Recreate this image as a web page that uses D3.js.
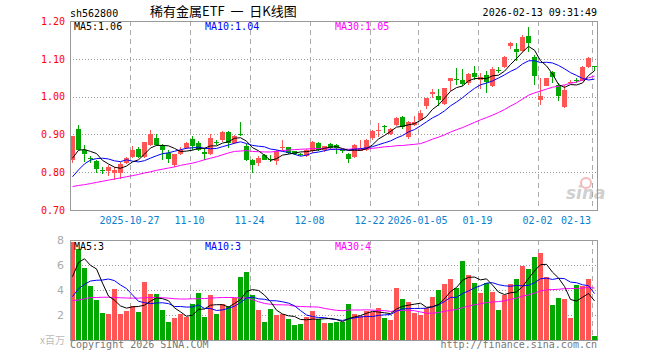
<!DOCTYPE html>
<html>
<head>
<meta charset="utf-8">
<script src="https://cdn.jsdelivr.net/npm/d3@7"></script>
<style>
  body { margin: 0; background: #fff; }
  text { font-family: "DejaVu Sans Mono", monospace; }
</style>
</head>
<body>
<div id="chart"></div>
<script>
// trading days shown on the chart
const dates = [
  "2025-10-13","2025-10-14","2025-10-15","2025-10-16","2025-10-17","2025-10-20","2025-10-21","2025-10-22","2025-10-23","2025-10-24",
  "2025-10-27","2025-10-28","2025-10-29","2025-10-30","2025-10-31","2025-11-03","2025-11-04","2025-11-05","2025-11-06","2025-11-07",
  "2025-11-10","2025-11-11","2025-11-12","2025-11-13","2025-11-14","2025-11-17","2025-11-18","2025-11-19","2025-11-20","2025-11-21",
  "2025-11-24","2025-11-25","2025-11-26","2025-11-27","2025-11-28","2025-12-01","2025-12-02","2025-12-03","2025-12-04","2025-12-05",
  "2025-12-08","2025-12-09","2025-12-10","2025-12-11","2025-12-12","2025-12-15","2025-12-16","2025-12-17","2025-12-18","2025-12-19",
  "2025-12-22","2025-12-23","2025-12-24","2025-12-25","2025-12-26","2025-12-29","2025-12-30","2025-12-31","2026-01-05","2026-01-06",
  "2026-01-07","2026-01-08","2026-01-09","2026-01-12","2026-01-13","2026-01-14","2026-01-15","2026-01-16","2026-01-19","2026-01-20",
  "2026-01-21","2026-01-22","2026-01-23","2026-01-26","2026-01-27","2026-01-28","2026-01-29","2026-01-30","2026-02-02","2026-02-03",
  "2026-02-04","2026-02-05","2026-02-06","2026-02-09","2026-02-10","2026-02-11","2026-02-12","2026-02-13"
];

const open = [
  .831,.915,.858,.838,.829,.806,.804,.798,.797,.824,
  .840,.861,.841,.872,.890,.869,.851,.820,.849,.863,
  .887,.878,.853,.847,.880,.884,.907,.878,.900,.868,
  .831,.825,.845,.834,.829,.865,.866,.856,.849,.842,
  .855,.878,.860,.875,.872,.858,.849,.840,.857,.859,
  .890,.908,.923,.902,.925,.946,.893,.925,.939,.975,
  1.006,1.001,.981,1.041,1.046,1.045,1.037,1.063,1.043,1.057,
  1.028,1.070,1.078,1.135,1.126,1.121,1.161,1.105,.991,1.029,
  1.066,1.030,.973,1.037,1.045,1.041,1.079,1.081
];
const high = [
  .897,.924,.872,.844,.831,.813,.818,.814,.828,.840,
  .868,.866,.881,.912,.902,.875,.860,.848,.866,.880,
  .895,.882,.864,.902,.884,.908,.909,.898,.932,.875,
  .834,.842,.848,.845,.858,.884,.866,.857,.852,.862,
  .882,.880,.869,.877,.874,.862,.851,.874,.886,.887,
  .912,.930,.925,.918,.947,.948,.935,.950,.965,.997,
  1.019,1.019,1.024,1.050,1.076,1.072,1.063,1.081,1.063,1.068,
  1.078,1.078,1.108,1.145,1.141,1.163,1.185,1.110,1.048,1.050,
  1.068,1.035,1.030,1.045,1.048,1.080,1.105,1.081
];
const low = [
  .825,.858,.826,.824,.799,.794,.790,.780,.782,.822,
  .837,.837,.837,.868,.868,.833,.825,.815,.845,.861,
  .860,.857,.833,.845,.873,.881,.864,.875,.895,.829,
  .798,.816,.831,.828,.820,.856,.849,.845,.843,.840,
  .852,.855,.853,.862,.849,.852,.824,.838,.855,.857,
  .886,.894,.905,.898,.922,.914,.889,.923,.935,.968,
  .997,.975,.979,1.015,1.032,1.028,1.030,1.045,1.019,1.010,
  1.025,1.062,1.075,1.127,1.094,1.119,1.119,1.031,.979,1.027,
  1.035,.988,.971,1.035,1.037,1.040,1.076,1.068
];
const close = [
  .895,.860,.849,.835,.808,.804,.813,.806,.821,.837,
  .859,.841,.881,.902,.872,.858,.836,.847,.860,.878,
  .870,.860,.849,.891,.878,.907,.878,.895,.898,.833,
  .820,.838,.833,.832,.856,.867,.851,.847,.847,.860,
  .880,.860,.869,.864,.864,.856,.835,.872,.861,.886,
  .908,.912,.919,.914,.943,.919,.932,.934,.957,.995,
  1.013,.992,1.022,1.048,1.044,1.034,1.060,1.052,1.052,1.039,
  1.072,1.068,1.105,1.141,1.117,1.158,1.143,1.055,1.002,1.048,
  1.053,1.002,1.017,1.039,1.043,1.079,1.101,1.079
];
// volume, millions
const volume = [
  7.87,7.28,5.73,4.35,3.20,2.19,2.08,4.08,2.08,2.32,
  2.72,2.21,4.61,3.65,3.65,2.40,1.41,1.73,2.08,1.87,
  2.85,3.73,1.87,3.60,2.08,2.85,2.75,3.33,5.07,5.41,
  3.60,2.40,1.47,2.48,2.00,2.05,1.68,1.20,1.28,1.87,
  2.32,1.65,1.39,1.39,1.47,1.41,2.88,2.08,1.95,2.35,
  2.21,2.59,1.79,1.60,4.19,3.28,3.07,2.19,2.00,2.53,
  3.47,4.00,4.48,4.88,4.19,6.32,5.20,4.59,3.76,4.59,
  3.84,2.40,3.60,4.48,4.88,5.95,5.68,6.64,6.96,5.04,
  2.80,3.36,3.28,1.73,4.40,4.32,4.88,0.32
];

// moving-average values before a full window exists
const ma5Lead = [.837,.858,.860,.855];
const ma10Lead = [.788,.806,.822,.832,.836,.837,.835,.830,.828];
const ma30Lead = [
  .762,.765,.767,.770,.773,.776,.779,.782,.785,.788,
  .791,.794,.798,.801,.805,.808,.811,.814,.818,.821,
  .824,.828,.833,.837,.841,.846,.851,.855,.856
];
const vma5Lead = [5.07,6.20,6.50,5.97];
const vma10Lead = [3.47,4.10,4.45,4.72,4.78,4.80,4.88,4.75,4.40];
const vma30Lead = [
  3.15,3.20,3.30,3.40,3.40,3.42,3.42,3.40,3.38,3.36,
  3.35,3.35,3.38,3.40,3.40,3.38,3.35,3.30,3.28,3.28,
  3.30,3.30,3.32,3.35,3.38,3.40,3.40,3.40,3.35
];

const priceTicks = [0.70, 0.80, 0.90, 1.00, 1.10, 1.20];
const volTicks = [2, 4, 6, 8];
const dateTicks = ["2025-10-27","2025-11-10","2025-11-24","2025-12-08","2025-12-22","2026-01-05","2026-01-19","2026-02-02","2026-02-13"];
const dateLabels = ["2025-10-27","11-10","11-24","12-08","12-22","2026-01-05","01-19","02-02","02-13"];
const priceLegend = ["MA5:1.06", "MA10:1.04", "MA30:1.05"];
const volLegend = ["MA5:3", "MA10:3", "MA30:4"];

const w = 660, h = 360;
const left = 70, right = 598;
const red = "#ff5555", green = "#00a800";
const maColors = ["#000000", "#0000ff", "#ff00ff"];

const svg = d3.select("#chart").append("svg")
  .attr("width", w).attr("height", h);

const x = d3.scaleBand().domain(dates).range([left, right]).padding(0);
const yP = d3.scaleLinear().domain([0.70, 1.20]).range([210, 21]);
const yV = d3.scaleLinear().domain([0, 8]).range([340, 240]);

function ma(arr, n, lead) {
  return arr.map((v, i) => i < n - 1 ? lead[i] : d3.mean(arr.slice(i - n + 1, i + 1)));
}

// header
svg.append("text").attr("x", 70).attr("y", 16.5).attr("font-size", 10).attr("fill", "#000").text("sh562800");
svg.append("text").attr("x", 150).attr("y", 16)
  .attr("font-size", 13).style("font-family", "'Noto Sans CJK SC', sans-serif").attr("fill", "#000")
  .attr("xml:space", "preserve").style("white-space", "pre")
  .text("稀有金属ETF  一  日K线图");
svg.append("text").attr("x", 597).attr("y", 16).attr("text-anchor", "end").attr("font-size", 10)
  .attr("fill", "#000").text("2026-02-13 09:31:49");

// sina watermark
const logo = svg.append("g").attr("opacity", 0.55);
logo.append("circle").attr("cx", 586).attr("cy", 183).attr("r", 5).attr("fill", "none")
  .attr("stroke", "#f08080").attr("stroke-width", 2);
logo.append("text").attr("x", 566).attr("y", 199).attr("font-size", 17).attr("font-weight", "bold")
  .attr("font-style", "italic").style("font-family", "'DejaVu Sans', sans-serif").attr("fill", "#aaa").text("sina");

// grids
function panelGrid(yScale, ticks, top, bottom) {
  const g = svg.append("g");
  g.selectAll("line.h").data(ticks).enter().append("line")
    .attr("x1", left).attr("x2", 597)
    .attr("y1", d => Math.round(yScale(d)) + 0.5).attr("y2", d => Math.round(yScale(d)) + 0.5)
    .attr("stroke", "#999").attr("stroke-dasharray", "1,2");
  g.selectAll("line.v").data(dateTicks).enter().append("line")
    .attr("x1", d => x(d) + 0.5).attr("x2", d => x(d) + 0.5)
    .attr("y1", top).attr("y2", bottom)
    .attr("stroke", "#aaa").attr("stroke-dasharray", "5,4");
}
panelGrid(yP, [0.80, 0.90, 1.00, 1.10], 21, 210);
panelGrid(yV, [2, 4, 6], 240, 340);

// candles
const candles = svg.append("g").attr("shape-rendering", "crispEdges");
const idx = d3.range(dates.length);
candles.selectAll("line").data(idx).enter().append("line")
  .attr("x1", i => x(dates[i]) + 2.5).attr("x2", i => x(dates[i]) + 2.5)
  .attr("y1", i => yP(high[i])).attr("y2", i => yP(low[i]))
  .attr("stroke", i => close[i] >= open[i] ? red : green);
candles.selectAll("rect").data(idx).enter().append("rect")
  .attr("x", i => x(dates[i]))
  .attr("width", 5)
  .attr("y", i => yP(Math.max(open[i], close[i])))
  .attr("height", i => Math.max(1, Math.abs(yP(open[i]) - yP(close[i]))))
  .attr("fill", i => close[i] >= open[i] ? red : green);

// volume bars
svg.append("g").attr("shape-rendering", "crispEdges")
  .selectAll("rect").data(idx).enter().append("rect")
  .attr("x", i => x(dates[i]))
  .attr("width", 5)
  .attr("y", i => yV(volume[i]))
  .attr("height", i => yV(0) - yV(volume[i]))
  .attr("fill", i => close[i] >= open[i] ? red : green);

// moving averages
function drawMA(values, yScale, color) {
  const line = d3.line().x((d, i) => x(dates[i]) + 2.5).y(d => yScale(d));
  svg.append("path").datum(values).attr("d", line)
    .attr("fill", "none").attr("stroke", color).attr("stroke-width", 1);
}
drawMA(ma(close, 30, ma30Lead), yP, maColors[2]);
drawMA(ma(close, 10, ma10Lead), yP, maColors[1]);
drawMA(ma(close, 5, ma5Lead), yP, maColors[0]);
drawMA(ma(volume, 30, vma30Lead), yV, maColors[2]);
drawMA(ma(volume, 10, vma10Lead), yV, maColors[1]);
drawMA(ma(volume, 5, vma5Lead), yV, maColors[0]);

// frames
svg.append("rect").attr("x", 70.5).attr("y", 21.5).attr("width", 527).attr("height", 189)
  .attr("fill", "none").attr("stroke", "#999");
svg.append("rect").attr("x", 70.5).attr("y", 240.5).attr("width", 527).attr("height", 100)
  .attr("fill", "none").attr("stroke", "#999");

// axes
const axP = svg.append("g").attr("transform", `translate(${left},0)`)
  .call(d3.axisLeft(yP).tickValues(priceTicks).tickFormat(d3.format(".2f")).tickSize(0).tickPadding(5));
axP.select(".domain").remove();
axP.selectAll("text").attr("fill", "#ff0000").attr("font-size", 10).style("font-family", "'DejaVu Sans Mono', monospace");

const axV = svg.append("g").attr("transform", `translate(${left},0)`)
  .call(d3.axisLeft(yV).tickValues(volTicks).tickFormat(d3.format("d")).tickSize(0).tickPadding(6));
axV.select(".domain").remove();
axV.selectAll("text").attr("fill", "#aaa").attr("font-size", 11).style("font-family", "'DejaVu Sans', sans-serif");
svg.append("text").attr("x", 65).attr("y", 344).attr("text-anchor", "end").attr("font-size", 10)
  .style("font-family", "'Noto Sans CJK SC', sans-serif").attr("fill", "#bbb").text("x百万");

const axX = svg.append("g").attr("transform", "translate(0,210)")
  .call(d3.axisBottom(x).tickValues(dateTicks).tickFormat((d, i) => dateLabels[i]).tickSize(0).tickPadding(7));
axX.select(".domain").remove();
axX.selectAll("text").attr("fill", "#0a80d0").attr("font-size", 10)
  .style("font-family", "'DejaVu Sans Mono', monospace").attr("dx", -3.5);
axX.selectAll(".tick").filter(d => d === dates[dates.length - 1]).select("text")
  .attr("text-anchor", "end").attr("dx", -4);

// legends
const legX = [74, 205, 335];
svg.selectAll("text.pl").data(priceLegend).enter().append("text")
  .attr("x", (d, i) => legX[i]).attr("y", 30).attr("font-size", 10)
  .attr("fill", (d, i) => maColors[i]).text(d => d);
svg.selectAll("text.vl").data(volLegend).enter().append("text")
  .attr("x", (d, i) => legX[i]).attr("y", 250).attr("font-size", 10)
  .attr("fill", (d, i) => maColors[i]).text(d => d);

// footer
svg.append("text").attr("x", 70).attr("y", 348).attr("font-size", 10).attr("fill", "#777").text("Copyright 2026 SINA.COM");
svg.append("text").attr("x", 597).attr("y", 348).attr("text-anchor", "end").attr("font-size", 10).attr("fill", "#777")
  .text("http://finance.sina.com.cn");
</script>
</body>
</html>
